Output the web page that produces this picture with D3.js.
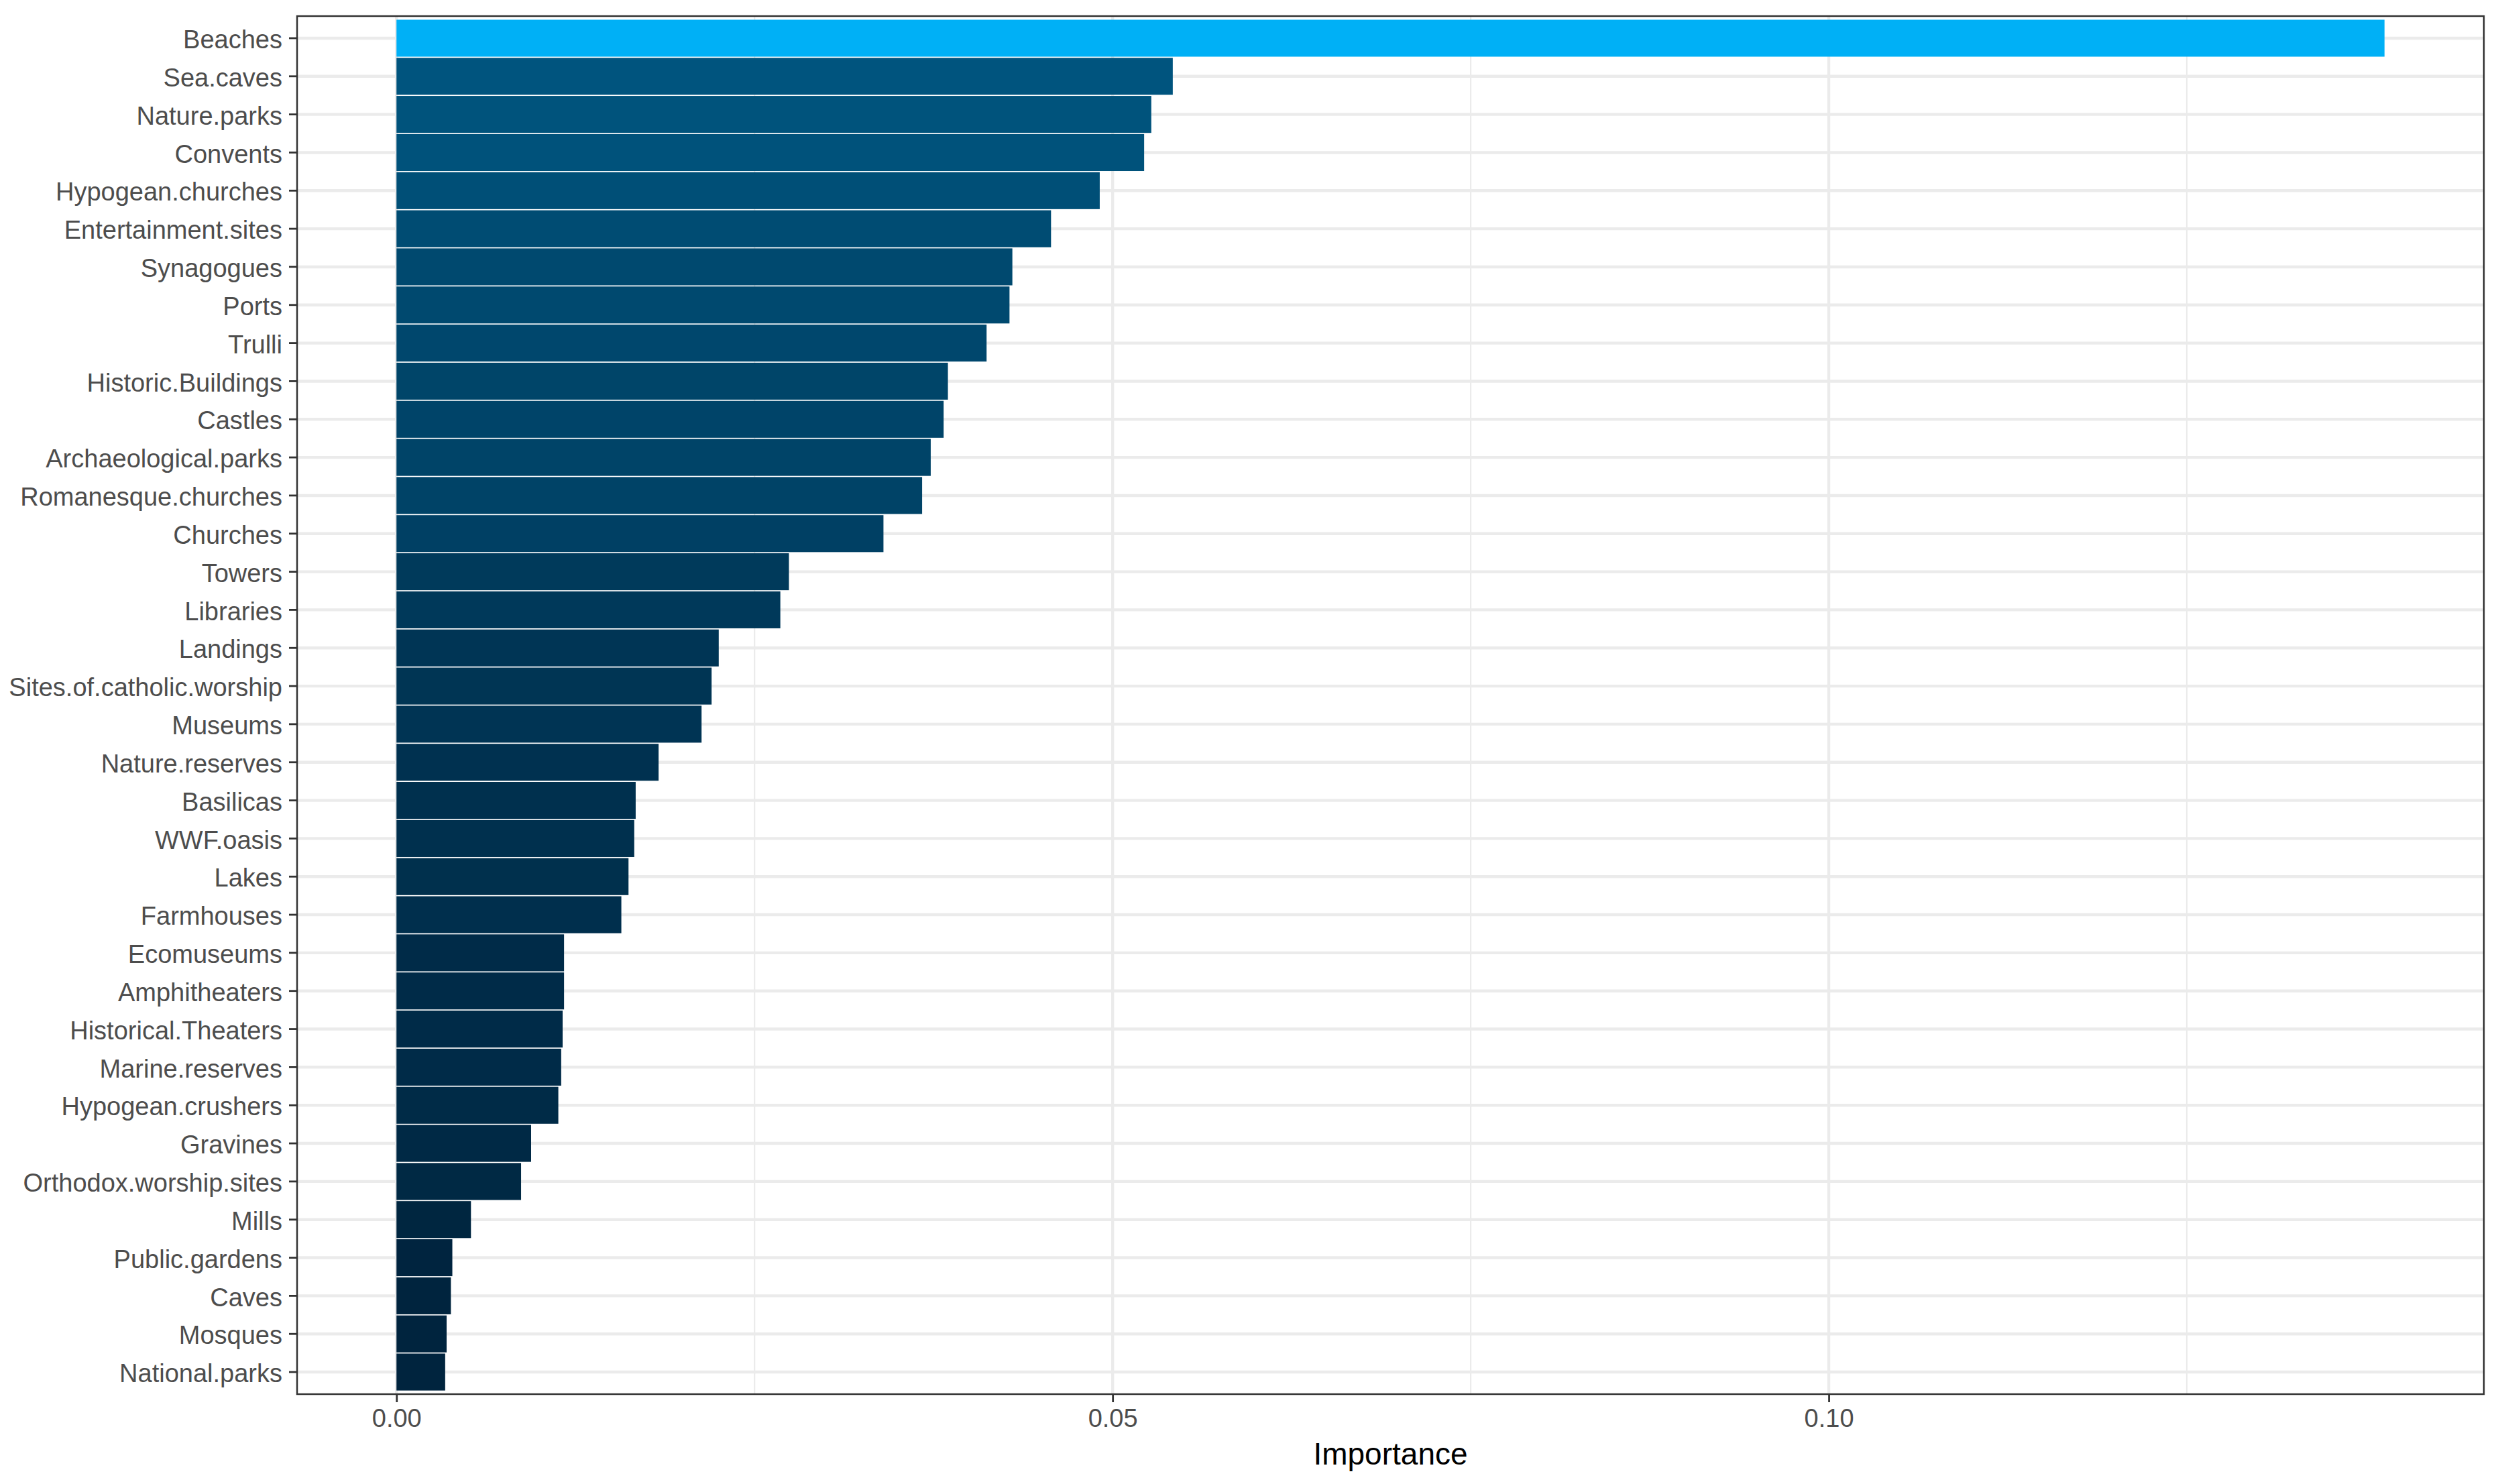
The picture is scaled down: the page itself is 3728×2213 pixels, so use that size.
<!DOCTYPE html>
<html>
<head>
<meta charset="utf-8">
<script src="https://cdn.jsdelivr.net/npm/d3@7"></script>
<style>
  html, body { margin: 0; padding: 0; background: #ffffff; }
  svg { display: block; }
  text { font-family: "Liberation Sans", Arial, Helvetica, sans-serif; }
</style>
</head>
<body>
<script>
const categories = [
  "Beaches", "Sea.caves", "Nature.parks", "Convents", "Hypogean.churches",
  "Entertainment.sites", "Synagogues", "Ports", "Trulli", "Historic.Buildings",
  "Castles", "Archaeological.parks", "Romanesque.churches", "Churches", "Towers",
  "Libraries", "Landings", "Sites.of.catholic.worship", "Museums", "Nature.reserves",
  "Basilicas", "WWF.oasis", "Lakes", "Farmhouses", "Ecomuseums",
  "Amphitheaters", "Historical.Theaters", "Marine.reserves", "Hypogean.crushers", "Gravines",
  "Orthodox.worship.sites", "Mills", "Public.gardens", "Caves", "Mosques",
  "National.parks"
];
const importance = [
  0.1388, 0.0542, 0.0527, 0.0522, 0.0491,
  0.0457, 0.0430, 0.0428, 0.0412, 0.0385,
  0.0382, 0.0373, 0.0367, 0.0340, 0.0274,
  0.0268, 0.0225, 0.0220, 0.0213, 0.0183,
  0.0167, 0.0166, 0.0162, 0.0157, 0.0117,
  0.0117, 0.0116, 0.0115, 0.0113, 0.0094,
  0.0087, 0.0052, 0.0039, 0.0038, 0.0035,
  0.0034
];
const xMajorTicks = [0, 0.05, 0.10];
const xTickLabels = ["0.00", "0.05", "0.10"];
const xMinorTicks = [0.025, 0.075, 0.125];
const xTitle = "Importance";
const fillLow = "#00243e";
const fillHigh = "#00b0f6";

const W = 3728, H = 2213;
const panel = { left: 443, right: 3704, top: 24, bottom: 2079 };

const data = categories.map((c, i) => ({ name: c, value: importance[i] }));

const svg = d3.select("body").append("svg")
  .attr("width", W).attr("height", H)
  .attr("viewBox", `0 0 ${W} ${H}`);

svg.append("rect").attr("width", W).attr("height", H).attr("fill", "#ffffff");

const maxV = d3.max(importance);
const x = d3.scaleLinear()
  .domain([0 - 0.05 * maxV, maxV * 1.05])
  .range([panel.left, panel.right]);

const y = d3.scaleBand()
  .domain(categories)
  .range([panel.top, panel.bottom])
  .paddingInner(0.03)
  .paddingOuter(0.095);

const color = d3.scaleLinear()
  .domain([d3.min(importance), maxV])
  .range([fillLow, fillHigh])
  .interpolate(d3.interpolateLab);

// grid
const grid = svg.append("g");
grid.selectAll("line.minor").data(xMinorTicks).join("line")
  .attr("x1", d => x(d)).attr("x2", d => x(d))
  .attr("y1", panel.top).attr("y2", panel.bottom)
  .attr("stroke", "#ebebeb").attr("stroke-width", 2.2);
grid.selectAll("line.majx").data(xMajorTicks).join("line")
  .attr("x1", d => x(d)).attr("x2", d => x(d))
  .attr("y1", panel.top).attr("y2", panel.bottom)
  .attr("stroke", "#ebebeb").attr("stroke-width", 4.4);
grid.selectAll("line.majy").data(categories).join("line")
  .attr("x1", panel.left).attr("x2", panel.right)
  .attr("y1", d => y(d) + y.bandwidth() / 2).attr("y2", d => y(d) + y.bandwidth() / 2)
  .attr("stroke", "#ebebeb").attr("stroke-width", 4.4);

// bars
svg.append("g").selectAll("rect").data(data).join("rect")
  .attr("x", x(0))
  .attr("y", d => y(d.name))
  .attr("width", d => x(d.value) - x(0))
  .attr("height", y.bandwidth())
  .attr("fill", d => color(d.value));

// panel border
svg.append("rect")
  .attr("x", panel.left).attr("y", panel.top)
  .attr("width", panel.right - panel.left).attr("height", panel.bottom - panel.top)
  .attr("fill", "none").attr("stroke", "#333333").attr("stroke-width", 2.5);

// y axis
const yAxis = svg.append("g")
  .attr("transform", `translate(${panel.left},0)`)
  .call(d3.axisLeft(y).tickSize(12).tickPadding(10));
yAxis.select(".domain").remove();
yAxis.selectAll(".tick line").attr("stroke", "#333333").attr("stroke-width", 2.8);
yAxis.selectAll(".tick text")
  .attr("fill", "#4d4d4d")
  .attr("dy", "0.4em")
  .style("font-size", "38px")
  .style("font-family", "'Liberation Sans', Arial, sans-serif");

// x axis
const xAxis = svg.append("g")
  .attr("transform", `translate(0,${panel.bottom})`)
  .call(d3.axisBottom(x).tickValues(xMajorTicks)
    .tickFormat((d, i) => xTickLabels[i]).tickSize(12).tickPadding(10));
xAxis.select(".domain").remove();
xAxis.selectAll(".tick line").attr("stroke", "#333333").attr("stroke-width", 2.8);
xAxis.selectAll(".tick text")
  .attr("fill", "#4d4d4d")
  .style("font-size", "38px")
  .style("font-family", "'Liberation Sans', Arial, sans-serif");

// x title
svg.append("text")
  .attr("x", (panel.left + panel.right) / 2)
  .attr("y", 2184)
  .attr("text-anchor", "middle")
  .attr("fill", "#000000")
  .style("font-size", "46px")
  .text(xTitle);
</script>
</body>
</html>
